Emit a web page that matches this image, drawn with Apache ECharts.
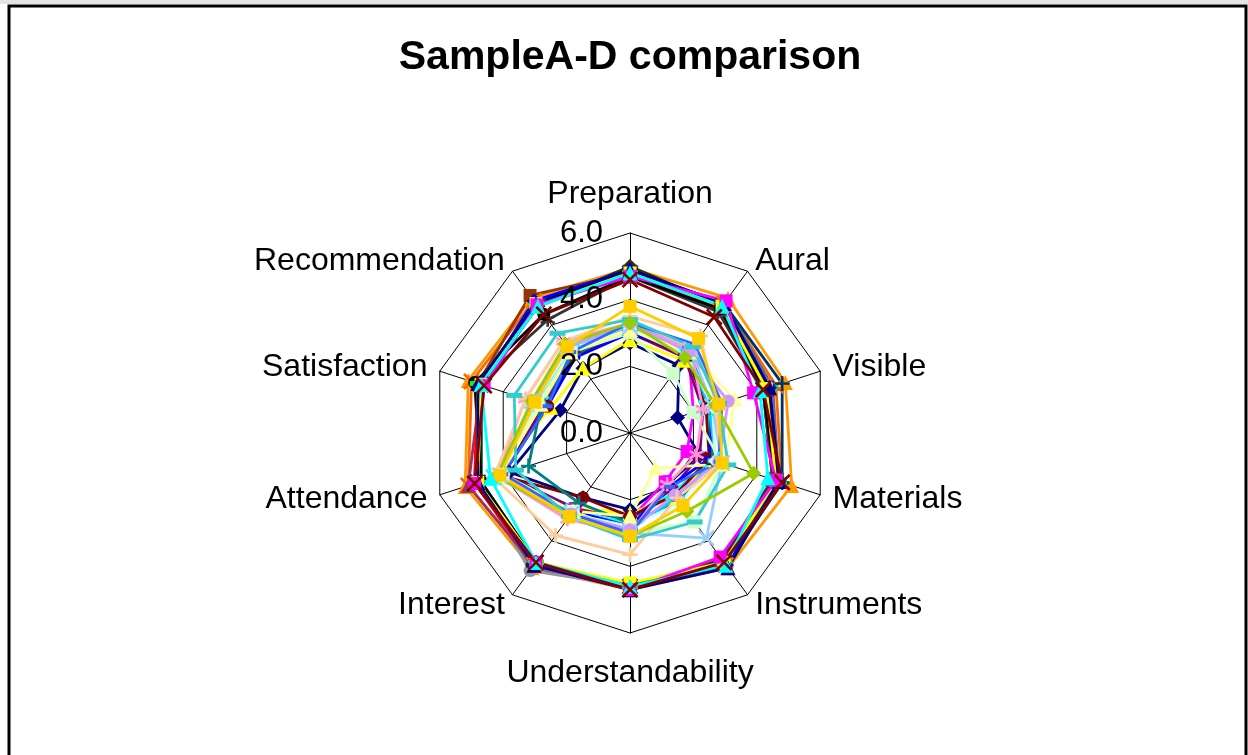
<!DOCTYPE html>
<html>
<head>
<meta charset="utf-8">
<script src="https://cdn.jsdelivr.net/npm/echarts@6/dist/echarts.min.js"></script>
<style>
html,body{margin:0;padding:0;background:#fff;}
#chart{width:1248px;height:755px;}
</style>
</head>
<body>
<div id="chart"></div>
<script>
// ---- data ----
const chartTitle = 'SampleA-D comparison';
const categories = ['Preparation','Aural','Visible','Materials','Instruments','Understandability','Interest','Attendance','Satisfaction','Recommendation'];
const tickLabels = ['0.0','2.0','4.0','6.0'];
const axisMin = 0, axisMax = 6;

// middle group
const s01 = [2.7,2.5,1.5,2.2,1.9,2.3,2.4,3.8,2.2,2.4];
const s02 = [3.2,3.0,2.0,1.8,1.8,2.6,2.8,4.1,3.0,3.0];
const s03 = [2.8,2.7,2.6,2.6,2.4,2.4,2.8,4.2,2.5,2.4];
const s04 = [3.1,2.9,2.4,2.6,2.2,2.7,2.9,4.3,2.8,3.0];
const s05 = [3.0,2.8,2.3,2.2,2.1,2.6,2.8,4.0,2.7,2.9];
const s06 = [3.0,2.9,2.4,2.5,2.3,2.5,2.4,4.1,2.6,2.9];
const s07 = [3.1,2.9,2.5,2.6,2.5,2.7,2.6,3.2,2.8,2.9];
const s08 = [3.0,3.0,2.6,2.5,2.0,2.8,2.9,4.0,2.6,2.8];
const s09 = [3.2,3.0,2.5,2.7,2.4,2.9,3.0,4.2,2.9,3.1];
const s10 = [3.1,2.9,2.6,2.7,2.6,2.8,3.0,4.0,3.0,3.1];
const s11 = [3.0,2.2,2.0,2.9,3.3,3.0,2.9,4.0,2.9,3.0];
const s12 = [3.1,3.0,3.3,3.0,1.3,2.5,2.9,4.1,2.8,3.0];
const s13 = [3.2,3.1,2.6,2.9,3.9,3.0,3.0,4.1,3.1,3.2];
const s14 = [3.3,3.1,2.3,2.1,1.9,3.0,3.2,4.2,3.3,3.4];
const s15 = [3.3,3.0,3.1,2.8,2.3,2.9,3.0,4.1,3.1,3.2];
const s16 = [3.5,3.6,2.7,2.9,2.4,3.65,3.8,4.3,3.3,3.4];
const s17 = [3.3,3.3,2.9,2.8,2.0,3.0,3.0,4.0,2.6,3.0];
const s18 = [3.4,3.2,2.8,3.1,3.3,3.2,3.1,3.6,3.65,3.7];
const s19 = [3.3,2.8,2.7,3.9,2.9,3.1,3.1,4.2,3.1,3.3];
const s20 = [3.8,3.5,2.8,2.9,2.7,3.1,3.1,4.1,3.0,3.2];
// outer group
const s21 = [4.95,5.0,4.9,5.1,5.0,4.7,5.0,5.2,5.1,5.0];
const s22 = [4.8,4.8,4.6,4.8,4.9,4.7,4.9,5.1,5.0,4.9];
const s23 = [4.9,4.8,4.5,4.7,4.9,4.6,5.0,4.8,4.8,4.8];
const s24 = [4.8,4.7,4.3,4.6,4.8,4.6,5.1,4.8,4.7,4.8];
const s25 = [4.8,4.8,4.8,4.8,4.9,4.6,4.8,4.7,4.7,4.8];
const s26 = [4.8,4.7,4.4,4.6,4.8,4.6,4.8,4.7,4.7,4.8];
const s27 = [4.9,4.7,4.3,4.6,4.8,4.6,4.9,4.7,4.7,4.8];
const s28 = [5.0,4.7,4.4,4.6,4.9,4.6,4.8,4.8,4.7,4.7];
const s29 = [4.8,4.6,4.2,4.5,4.7,4.6,4.8,4.9,4.8,5.1];
const s30 = [4.7,4.6,4.2,4.5,4.7,4.6,4.9,5.1,4.7,4.8];
const s31 = [4.8,4.7,4.3,4.6,4.8,4.6,4.8,4.8,4.7,4.7];
const s32 = [4.7,4.5,4.2,4.5,4.7,4.6,4.8,4.8,4.8,4.2];
const s33 = [4.7,4.6,4.2,4.6,4.8,4.6,4.8,4.7,4.9,4.4];
const s34 = [4.8,4.7,4.3,4.6,4.8,4.7,4.9,4.9,4.8,4.8];
const s35 = [4.8,4.8,4.4,4.7,4.8,4.6,4.8,4.8,4.8,4.8];
const s36 = [4.9,4.8,4.4,4.7,4.9,4.6,4.9,4.8,4.7,4.9];
const s37 = [4.8,4.7,4.3,4.6,4.8,4.5,4.8,4.8,4.7,4.8];
const s38 = [4.9,4.8,4.4,4.7,5.0,4.7,4.9,4.8,4.8,4.8];
const s39 = [4.7,4.9,3.9,4.6,4.6,4.7,4.8,4.9,4.6,4.75];
const s40 = [4.8,4.7,4.1,4.35,4.9,4.6,4.8,4.4,4.7,4.7];
const s41 = [4.6,4.3,4.2,4.8,4.8,4.7,4.8,4.9,4.6,4.4];

const seriesValues = [s01,s02,s03,s04,s05,s06,s07,s08,s09,s10,s11,s12,s13,s14,s15,s16,s17,s18,s19,s20,
  s21,s22,s23,s24,s25,s26,s27,s28,s29,s30,s31,s32,s33,s34,s35,s36,s37,s38,s39,s40,s41];
const seriesNames = seriesValues.map((_, i) => 'Sample ' + (i + 1));

// ---- styles ----
const seriesColors = ['#000080','#FF00FF','#FFFF00','#00FFFF','#800080','#800000','#008080','#0000FF',
  '#00CCFF','#CCFFFF','#CCFFCC','#FFFF99','#99CCFF','#FF99CC','#CC99FF','#FFCC99','#3366FF','#33CCCC','#99CC00','#FFCC00',
  '#FF9900','#FF6600','#666699','#969696','#003366','#339966','#003300','#333300','#993300','#993366','#333399','#333333',
  '#000000','#FF0000','#00FF00','#0000FF','#FFFF00','#000080','#FF00FF','#00FFFF','#800000'];
const markerCycle = ['diamond','square','triangle','x','star','circle','plus','dash','longdash'];
const seriesMarkers = seriesColors.map((_, i) => markerCycle[i % 9]);
seriesMarkers[33] = 'dash'; seriesMarkers[34] = 'longdash'; seriesMarkers[35] = 'diamond';
seriesMarkers[36] = 'square'; seriesMarkers[37] = 'triangle'; seriesMarkers[38] = 'square';
seriesMarkers[39] = 'triangle'; seriesMarkers[40] = 'x';

function markerSpec(m, color) {
  const stroke = {color: color, borderColor: color, borderWidth: 2.6};
  switch (m) {
    case 'diamond': return {symbol: 'diamond', symbolSize: 15, itemStyle: {color: color}};
    case 'square': return {symbol: 'rect', symbolSize: 13, itemStyle: {color: color}};
    case 'triangle': return {symbol: 'triangle', symbolSize: 15, itemStyle: {color: color}};
    case 'circle': return {symbol: 'circle', symbolSize: 13, itemStyle: {color: color}};
    case 'x': return {symbol: 'path://M0,0L10,10M10,0L0,10', symbolSize: 15, itemStyle: stroke};
    case 'star': return {symbol: 'path://M5,0L5,10M0,2.5L10,7.5M0,7.5L10,2.5', symbolSize: 14, itemStyle: stroke};
    case 'plus': return {symbol: 'path://M5,0L5,10M0,5L10,5', symbolSize: 15, itemStyle: stroke};
    case 'dash': return {symbol: 'rect', symbolSize: [10, 4], itemStyle: {color: color}};
    case 'longdash': return {symbol: 'rect', symbolSize: [16, 5], itemStyle: {color: color}};
  }
}

// ECharts lays radar indicators counter-clockwise; the reference runs clockwise,
// so keep the first axis and reverse the rest (same permutation for every series).
const order = [0].concat(categories.slice(1).map((_, i) => categories.length - 1 - i));
const orderedCats = order.map(i => categories[i]);

const series = seriesValues.map((vals, i) => {
  const c = seriesColors[i];
  const mk = markerSpec(seriesMarkers[i], c);
  return {
    type: 'radar',
    radarIndex: 0,
    name: seriesNames[i],
    z: 2,
    symbol: mk.symbol,
    symbolSize: mk.symbolSize,
    lineStyle: {color: c, width: 2.8},
    itemStyle: mk.itemStyle,
    emphasis: {disabled: true},
    data: [{value: order.map(k => vals[k]), name: seriesNames[i]}]
  };
});

const FONT = 'Liberation Sans, Arial, sans-serif';
const chart = echarts.init(document.getElementById('chart'), null, {renderer: 'canvas'});
chart.setOption({
  animation: false,
  backgroundColor: '#ffffff',
  graphic: [
    {type: 'rect', shape: {x: 0, y: 0, width: 1248, height: 4}, style: {fill: '#e4e4e4'}, silent: true},
    {type: 'rect', shape: {x: 9, y: 6, width: 1237, height: 800}, style: {fill: 'none', stroke: '#000', lineWidth: 3}, silent: true},
    {type: 'text', x: 630, y: 58, style: {text: chartTitle, textAlign: 'center', textVerticalAlign: 'middle',
      font: 'bold 41px ' + FONT, fill: '#000'}}
  ],
  radar: [
    {
      center: [630, 433],
      radius: 200,
      startAngle: 90,
      splitNumber: 3,
      shape: 'polygon',
      z: 0,
      indicator: orderedCats.map(n => ({name: n, min: axisMin, max: axisMax})),
      nameGap: 13,
      axisName: {
        color: '#000', fontSize: 32, fontFamily: FONT,
        formatter: function (name) {
          if (name === categories[0]) return '{t|' + name + '}';
          if (name === categories[5]) return '{b|' + name + '}';
          return name;
        },
        rich: {
          t: {color: '#000', fontSize: 32, fontFamily: FONT, padding: [0, 0, 10, 0]},
          b: {color: '#000', fontSize: 32, fontFamily: FONT, padding: [11, 0, 0, 0]}
        }
      },
      splitLine: {lineStyle: {color: '#000', width: 1}},
      splitArea: {show: false},
      axisLine: {lineStyle: {color: '#000', width: 1}},
      axisTick: {show: false},
      axisLabel: {show: false}
    },
    {
      center: [630, 433],
      radius: 200,
      startAngle: 90,
      splitNumber: 3,
      shape: 'polygon',
      z: 10,
      indicator: orderedCats.map((n, i) => i === 0
        ? {name: n, min: axisMin, max: axisMax, axisLabel: {show: true}}
        : {name: n, min: axisMin, max: axisMax}),
      axisName: {show: false},
      splitLine: {show: false},
      splitArea: {show: false},
      axisLine: {show: false},
      axisTick: {show: false},
      axisLabel: {
        show: false, margin: 27, color: '#000', fontSize: 31, fontFamily: FONT,
        formatter: function (v, idx) { return tickLabels[idx]; }
      }
    }
  ],
  series: series
});
</script>
</body>
</html>
